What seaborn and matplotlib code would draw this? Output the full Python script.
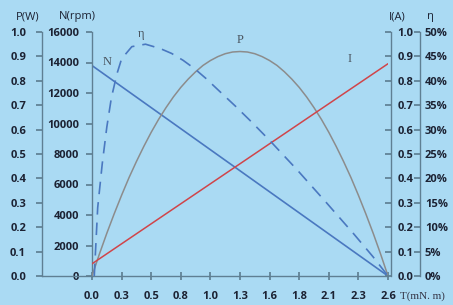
import numpy as np
import pandas as pd
import matplotlib.pyplot as plt
import seaborn as sns
from matplotlib.lines import Line2D

# --- DATA ---
torque_ticks = [0.0, 0.26, 0.52, 0.78, 1.04, 1.30, 1.56, 1.82, 2.08, 2.34, 2.60]
torque_labels = ['0.0', '0.3', '0.5', '0.8', '1.0', '1.3', '1.6', '1.8', '2.1', '2.3', '2.6']

speed_t = [0.0, 2.6]
speed_rpm = [13800, 0]

current_t = [0.0, 2.6]
current_a = [0.05, 0.87]

power_t = [0.0, 0.065, 0.13, 0.195, 0.26, 0.325, 0.39, 0.455, 0.52, 0.585, 0.65,
           0.715, 0.78, 0.845, 0.91, 0.975, 1.04, 1.105, 1.17, 1.235, 1.30,
           1.365, 1.43, 1.495, 1.56, 1.625, 1.69, 1.755, 1.82, 1.885, 1.95,
           2.015, 2.08, 2.145, 2.21, 2.275, 2.34, 2.405, 2.47, 2.535, 2.60]
power_w = [0.0, 0.090, 0.175, 0.255, 0.331, 0.403, 0.469, 0.531, 0.589, 0.642, 0.690,
           0.734, 0.773, 0.807, 0.837, 0.863, 0.883, 0.899, 0.911, 0.918, 0.920,
           0.918, 0.911, 0.899, 0.883, 0.863, 0.837, 0.807, 0.773, 0.734, 0.690,
           0.642, 0.589, 0.531, 0.469, 0.403, 0.331, 0.255, 0.175, 0.090, 0.0]

eff_t = [0.02, 0.05, 0.09, 0.13, 0.17, 0.22, 0.26, 0.35, 0.47, 0.60, 0.70,
         0.80, 0.90, 1.00, 1.10, 1.26, 1.40, 1.56, 1.80, 2.06, 2.30, 2.47, 2.60]
eff_pct = [0.0, 14.0, 23.0, 30.5, 36.5, 41.5, 44.5, 47.0, 47.5, 46.6, 45.6,
           44.2, 42.5, 40.5, 38.3, 34.8, 31.6, 27.8, 21.8, 15.0, 8.6, 3.9, 0.0]

BG = '#aadaf3'
BLUE = '#4a78c0'
GRAY = '#8c8c8c'
RED = '#d0454a'
AXC = '#5f7f93'
TXT = '#1c2233'

sns.set_theme(style='white')
plt.rcParams['font.family'] = ['Open Sans', 'DejaVu Sans']

W, H = 453, 305
fig = plt.figure(figsize=(W / 100, H / 100), dpi=100, facecolor=BG)
ax = fig.add_axes([92 / W, 29 / H, 296 / W, 244 / H])
ax.set_facecolor(BG)

ax_p = ax.twinx()
ax_i = ax.twinx()
ax_e = ax.twinx()

# --- curves ---
sns.lineplot(x=power_t, y=power_w, ax=ax_p, color=GRAY, linewidth=1.1)
sns.lineplot(x=current_t, y=current_a, ax=ax_i, color=RED, linewidth=1.1)
sns.lineplot(x=speed_t, y=speed_rpm, ax=ax, color=BLUE, linewidth=1.2)
sns.lineplot(x=eff_t, y=eff_pct, ax=ax_e, color=BLUE, linewidth=1.2,
             linestyle=(0, (7.5, 4.8)))

for a in (ax, ax_p, ax_i, ax_e):
    a.set_xlim(0, 2.6)
    a.set_xlabel('')
    a.set_ylabel('')
    for s in a.spines.values():
        s.set_visible(False)
        s.set_color(AXC)
        s.set_linewidth(1.0)

# main axis: N + torque
ax.set_ylim(0, 16000)
ax.set_yticks(range(0, 16001, 2000))
ax.spines['left'].set_visible(True)
ax.spines['bottom'].set_visible(True)
ax.tick_params(axis='y', left=True, direction='out', length=4, pad=5.5,
               colors=AXC, labelcolor=TXT, labelsize=8)
ax.set_xticks(torque_ticks)
ax.set_xticklabels(torque_labels)
ax.tick_params(axis='x', bottom=True, direction='inout', length=6, pad=8,
               colors=AXC, labelcolor=TXT, labelsize=8)
for lab in ax.get_xticklabels() + ax.get_yticklabels():
    lab.set_fontweight('bold')

# P axis on far left
ax_p.set_ylim(0, 1.0)
ax_p.set_yticks(np.arange(0, 1.01, 0.1))
ax_p.yaxis.set_ticks_position('left')
ax_p.spines['left'].set_visible(True)
ax_p.spines['left'].set_position(('axes', (42 - 92) / 296))
ax_p.tick_params(axis='y', direction='out', length=4, pad=7.5,
                 colors=AXC, labelcolor=TXT, labelsize=8)
ax_p.set_yticklabels([f'{v:.1f}' for v in np.arange(0, 1.01, 0.1)], fontweight='bold')

# I axis
ax_i.set_ylim(0, 1.0)
ax_i.set_yticks(np.arange(0, 1.01, 0.1))
ax_i.spines['right'].set_visible(True)
ax_i.spines['right'].set_position(('axes', (391 - 92) / 296))
ax_i.tick_params(axis='y', direction='in', length=4, pad=4.5,
                 colors=AXC, labelcolor=TXT, labelsize=8)
ax_i.set_yticklabels([f'{v:.1f}' for v in np.arange(0, 1.01, 0.1)], fontweight='bold')

# efficiency axis
ax_e.set_ylim(0, 50)
ax_e.set_yticks(range(0, 51, 5))
ax_e.spines['right'].set_visible(True)
ax_e.spines['right'].set_position(('axes', (420 - 92) / 296))
ax_e.tick_params(axis='y', direction='in', length=4, pad=3.5,
                 colors=AXC, labelcolor=TXT, labelsize=8)
ax_e.set_yticklabels([f'{v}%' for v in range(0, 51, 5)], fontweight='bold')

# bottom line running out to the P axis
ax.add_line(Line2D([(42 - 92) / 296, 0], [0, 0], transform=ax.transAxes,
                   color=AXC, linewidth=1.0, clip_on=False))

# axis titles
fig.text(28 / W, 1 - 17 / H, 'P(W)', ha='center', va='center', fontsize=8, color=TXT)
fig.text(77 / W, 1 - 17 / H, 'N(rpm)', ha='center', va='center', fontsize=8, color=TXT)
fig.text(397 / W, 1 - 17 / H, 'I(A)', ha='center', va='center', fontsize=8, color=TXT)
fig.text(430 / W, 1 - 17 / H, 'η', ha='center', va='center', fontsize=8, color=TXT)
fig.text(422 / W, 1 - 296 / H, 'T(mN. m)', ha='center', va='center', fontsize=8,
         color='#333344', family='Liberation Serif')

# curve labels
serif = dict(family='Liberation Serif', fontsize=9, color='#4a5560',
             ha='center', va='center')
fig.text(107 / W, 1 - 62 / H, 'N', **serif)
fig.text(141 / W, 1 - 34 / H, 'η', **serif)
fig.text(240 / W, 1 - 40 / H, 'P', **serif)
fig.text(350 / W, 1 - 59 / H, 'I', **serif)

fig.savefig('out.png', dpi=100, facecolor=BG)
